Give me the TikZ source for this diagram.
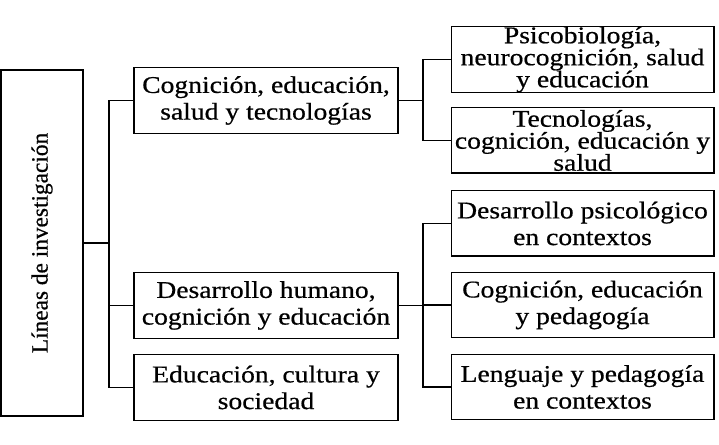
\documentclass[tikz,border=0pt]{standalone}
\usepackage{fontspec}
\setmainfont{Liberation Serif}[FakeStretch=1.15,FakeBold=0.6]
\newfontfamily\rootfont{Liberation Serif}[FakeBold=0.6]
\usepackage{tikz}
\tikzset{every node/.style={align=center}, font=\fontsize{18}{20}\selectfont,
    box/.style={draw, line width=1pt, inner sep=0pt},
    lvla/.style={box, minimum width=198pt, minimum height=49.5pt},
    lvlb/.style={box, minimum width=197pt, minimum height=49pt},
    tight/.style={font=\fontsize{18}{16.5}\selectfont}}

\begin{document}
\begin{tikzpicture}[x=0.75pt, y=-0.75pt, line width=0.9pt]
            \useasboundingbox (0,0) rectangle (719,445);
            \node [box,rotate=90,minimum width=259.5pt,minimum height=61.5pt] (r0) at (42,243) {\rootfont\fontsize{17.5}{20}\selectfont L\'ineas de investigaci\'on};
            \node [lvla] (c1) at (266,100.5) {Cognici\'on, educaci\'on,\\ salud y tecnolog\'ias};
            \node [lvla] (c2) at (266,305.5) {Desarrollo humano,\\ cognici\'on y educaci\'on};
            \node [lvla] (c3) at (266,387.5) {Educaci\'on, cultura y\\ sociedad};
            \node [lvlb,tight] (t1) at (582.5,59.5) {Psicobiolog\'ia,\\ neurocognici\'on, salud\\ y educaci\'on};
            \node [lvlb,tight] (t2) at (582.5,140.5) {Tecnolog\'ias,\\ cognici\'on, educaci\'on y\\ salud};
            \node [lvlb] (t3) at (582.5,223.5) {Desarrollo psicol\'ogico\\ en contextos};
            \node [lvlb] (t4) at (582.5,305) {Cognici\'on, educaci\'on\\ y pedagog\'ia};
            \node [lvlb] (t5) at (582.5,387) {Lenguaje y pedagog\'ia\\ en contextos};
            \coordinate (j0) at (109,243);
            \coordinate (j1) at (423,100.5);
            \coordinate (j2) at (423,305.5);
            \draw [line width=1.6pt] (r0) -- (j0);
            \draw (j0) |- (c1.west) (j0) |- (c2.west) (j0) |- (c3.west);
            \draw (c1.east) -- (j1) (j1) |- (t1.west) (j1) |- (t2.west);
            \draw (c2.east) -- (j2) (j2) |- (t3.west) (j2) |- (t4.west) (j2) |- (t5.west);
        \end{tikzpicture}
\end{document}
